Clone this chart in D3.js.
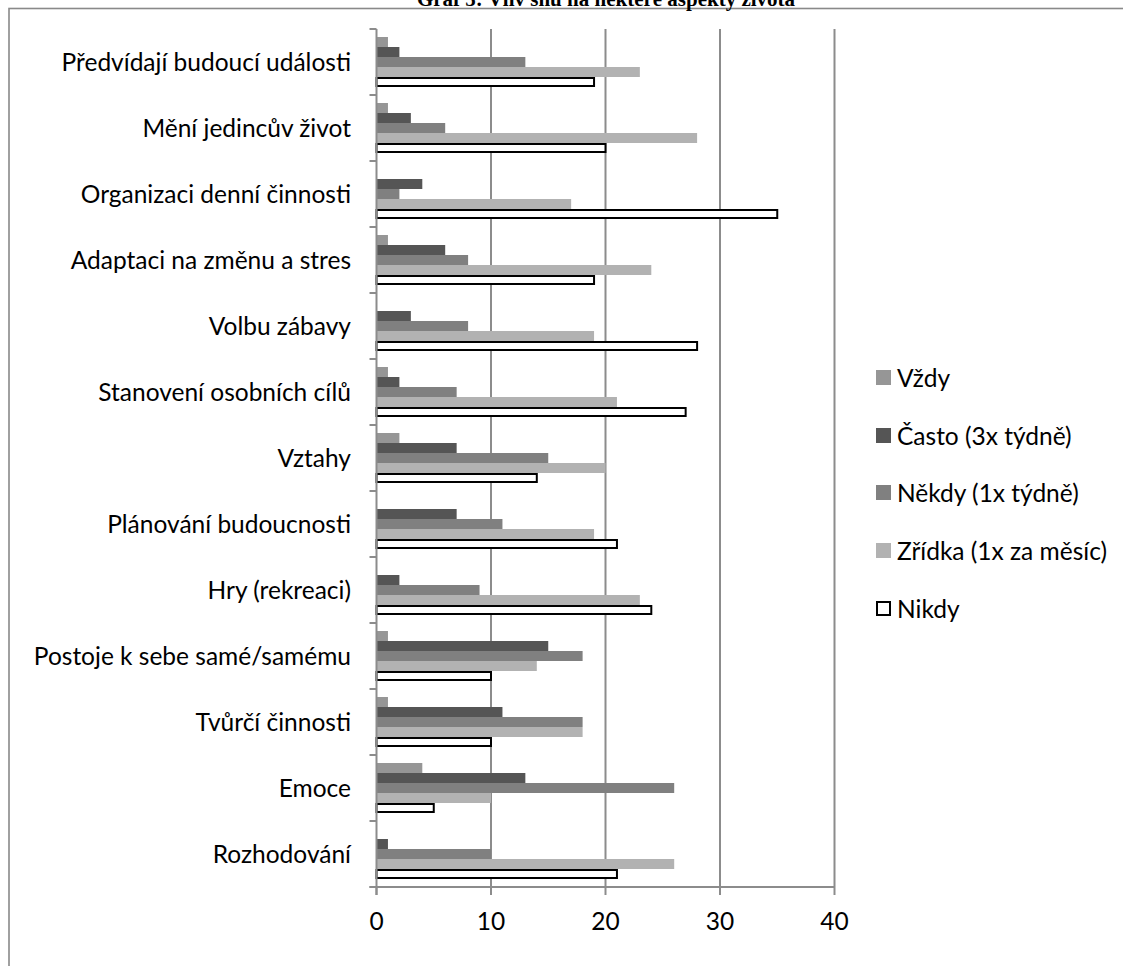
<!DOCTYPE html>
<html>
<head>
<meta charset="utf-8">
<script src="https://cdn.jsdelivr.net/npm/d3@7"></script>
<style>
  html, body { margin: 0; padding: 0; background: #fff; }
  svg { display: block; }
</style>
</head>
<body>
<svg id="chart" width="1123" height="966"></svg>
<script>
// Categories as listed from top to bottom
const categories = [
  "Předvídají budoucí události",
  "Mění jedincův život",
  "Organizaci denní činnosti",
  "Adaptaci na změnu a stres",
  "Volbu zábavy",
  "Stanovení osobních cílů",
  "Vztahy",
  "Plánování budoucnosti",
  "Hry (rekreaci)",
  "Postoje k sebe samé/samému",
  "Tvůrčí činnosti",
  "Emoce",
  "Rozhodování"
];

const seriesNames = ["Vždy", "Často (3x týdně)", "Někdy (1x týdně)", "Zřídka (1x za měsíc)", "Nikdy"];

// Counts per category, one array per answer
const vzdy   = [1, 1, 0, 1, 0, 1, 2, 0, 0, 1, 1, 4, 0];
const casto  = [2, 3, 4, 6, 3, 2, 7, 7, 2, 15, 11, 13, 1];
const nekdy  = [13, 6, 2, 8, 8, 7, 15, 11, 9, 18, 18, 26, 10];
const zridka = [23, 28, 17, 24, 19, 21, 20, 19, 23, 14, 18, 10, 26];
const nikdy  = [19, 20, 35, 19, 28, 27, 14, 21, 24, 10, 10, 5, 21];

const xTicks = [0, 10, 20, 30, 40];
const titleText = "Graf 5: Vliv snů na některé aspekty života";

const seriesValues = [vzdy, casto, nekdy, zridka, nikdy];
const fills   = ["#969696", "#555555", "#808080", "#b2b2b2", "#ffffff"];
const strokes = ["none", "none", "none", "none", "#000000"];

const svg = d3.select("#chart");
const font = "Lato, 'Open Sans', sans-serif";
const fontSize = 24.5;

// Outer chart frame
svg.append("rect")
  .attr("x", 9).attr("y", 8.5)
  .attr("width", 1130).attr("height", 980)
  .attr("fill", "none").attr("stroke", "#898989").attr("stroke-width", 1.6);

// Title
svg.append("text")
  .attr("x", 606).attr("y", 6)
  .attr("text-anchor", "middle")
  .attr("font-family", "'Liberation Serif', 'Times New Roman', serif")
  .attr("font-weight", "bold")
  .attr("font-size", 21)
  .text(titleText);

const plot = { left: 376.5, right: 834.5, top: 29, bottom: 887 };

const x = d3.scaleLinear().domain([0, 40]).range([plot.left, plot.right]);
const y0 = d3.scaleBand().domain(categories).range([plot.top, plot.bottom])
  .paddingInner(16 / 66).paddingOuter(8 / 66);
const y1 = d3.scaleBand().domain(seriesNames).range([0, y0.bandwidth()]);

// Vertical gridlines
svg.append("g").selectAll("line")
  .data(xTicks.filter(d => d > 0))
  .join("line")
  .attr("x1", d => x(d)).attr("x2", d => x(d))
  .attr("y1", plot.top).attr("y2", plot.bottom)
  .attr("stroke", "#8c8c8c").attr("stroke-width", 2);

// Bars
const rows = [];
categories.forEach((c, i) => {
  seriesNames.forEach((s, j) => {
    rows.push({ cat: c, ser: s, j, value: seriesValues[j][i] });
  });
});

svg.append("g").selectAll("rect")
  .data(rows.filter(d => d.value > 0))
  .join("rect")
  .attr("x", x(0))
  .attr("y", d => y0(d.cat) + y1(d.ser) + (d.j === 4 ? 1 : 0))
  .attr("width", d => x(d.value) - x(0))
  .attr("height", d => y1.bandwidth() - (d.j === 4 ? 2 : 0))
  .attr("fill", d => fills[d.j])
  .attr("stroke", d => strokes[d.j])
  .attr("stroke-width", 2);

// Left category axis
const yAxis = svg.append("g");
yAxis.append("line")
  .attr("x1", plot.left).attr("x2", plot.left)
  .attr("y1", plot.top).attr("y2", plot.bottom + 8)
  .attr("stroke", "#8c8c8c").attr("stroke-width", 2);
const step = y0.step();
yAxis.selectAll("line.tick")
  .data(d3.range(categories.length + 1))
  .join("line").attr("class", "tick")
  .attr("x1", plot.left - 7).attr("x2", plot.left)
  .attr("y1", i => plot.top + i * step).attr("y2", i => plot.top + i * step)
  .attr("stroke", "#8c8c8c").attr("stroke-width", 2);
yAxis.selectAll("text")
  .data(categories)
  .join("text")
  .attr("x", 351)
  .attr("y", d => y0(d) + y0.bandwidth() / 2)
  .attr("dy", "0.35em")
  .attr("text-anchor", "end")
  .attr("font-family", font)
  .attr("font-size", fontSize)
  .attr("fill", "#000")
  .text(d => d);

// Bottom value axis
const xAxis = svg.append("g");
xAxis.append("line")
  .attr("x1", plot.left - 7).attr("x2", plot.right)
  .attr("y1", plot.bottom).attr("y2", plot.bottom)
  .attr("stroke", "#8c8c8c").attr("stroke-width", 2);
xAxis.selectAll("line.tick")
  .data(xTicks)
  .join("line").attr("class", "tick")
  .attr("x1", d => x(d)).attr("x2", d => x(d))
  .attr("y1", plot.bottom).attr("y2", plot.bottom + 8)
  .attr("stroke", "#8c8c8c").attr("stroke-width", 2);
xAxis.selectAll("text")
  .data(xTicks)
  .join("text")
  .attr("x", d => x(d))
  .attr("y", 930)
  .attr("text-anchor", "middle")
  .attr("font-family", font)
  .attr("font-size", fontSize)
  .text(d => d);

// Legend
const legend = svg.append("g");
const legendY = [377, 435, 492, 550, 608];
seriesNames.forEach((s, j) => {
  const g = legend.append("g");
  g.append("rect")
    .attr("x", j === 4 ? 877 : 876).attr("y", legendY[j] - 7 + (j === 4 ? 1 : 0))
    .attr("width", j === 4 ? 13 : 15).attr("height", j === 4 ? 13 : 15)
    .attr("fill", fills[j])
    .attr("stroke", strokes[j]).attr("stroke-width", 2);
  g.append("text")
    .attr("x", 897).attr("y", legendY[j] + 1)
    .attr("dy", "0.35em")
    .attr("font-family", font)
    .attr("font-size", fontSize)
    .text(s);
});
</script>
</body>
</html>
